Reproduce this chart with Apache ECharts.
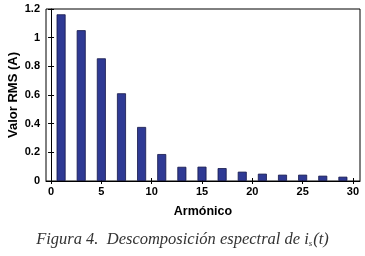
<!DOCTYPE html>
<html>
<head>
<meta charset="utf-8">
<script src="https://cdn.jsdelivr.net/npm/echarts@6/dist/echarts.min.js"></script>
<style>
  html, body { margin: 0; padding: 0; background: #fff; }
  #chart { width: 365px; height: 256px; }
</style>
</head>
<body>
<div id="chart"></div>
<script>
// harmonic order and its RMS value (A)
const harmonics = [1, 3, 5, 7, 9, 11, 13, 15, 17, 19, 21, 23, 25, 27, 29];
const rmsValues = [1.163, 1.052, 0.856, 0.612, 0.377, 0.188, 0.099, 0.1, 0.09, 0.065, 0.051, 0.044, 0.044, 0.037, 0.03];
const xTicks = [0, 5, 10, 15, 20, 25, 30];

const font = 'Liberation Sans, Arial, sans-serif';
const chartDom = document.getElementById('chart');
const myChart = echarts.init(chartDom);

const option = {
  animation: false,
  grid: {
    left: 46,
    right: 5,
    top: 9,
    bottom: 75,
    outerBoundsMode: 'none',
    show: true,
    borderColor: '#000',
    borderWidth: 1
  },
  xAxis: [
    {
      type: 'value',
      min: -0.5,
      max: 30.7,
      name: 'Armónico',
      nameLocation: 'middle',
      nameGap: 24,
      nameMoveOverlap: false,
      nameTextStyle: { color: '#000', fontFamily: font, fontSize: 12.5, fontWeight: 'bold' },
      axisLine: { lineStyle: { color: '#000' } },
      axisTick: { inside: true, length: 3, customValues: xTicks, lineStyle: { color: '#000' } },
      axisLabel: { customValues: xTicks, color: '#000', fontFamily: font, fontSize: 11, fontWeight: 'bold', margin: 5 },
      splitLine: { show: false }
    },
    {
      type: 'value',
      position: 'top',
      min: -0.5,
      max: 30.7,
      axisLine: { show: false },
      axisTick: { inside: true, length: 3, customValues: xTicks, lineStyle: { color: '#000' } },
      axisLabel: { show: false },
      splitLine: { show: false }
    }
  ],
  yAxis: [
    {
      type: 'value',
      min: 0,
      max: 1.2,
      interval: 0.2,
      name: 'Valor RMS (A)',
      nameLocation: 'middle',
      nameGap: 26,
      nameMoveOverlap: false,
      nameTextStyle: { color: '#000', fontFamily: font, fontSize: 13, fontWeight: 'bold' },
      axisLine: { show: true, lineStyle: { color: '#000' } },
      axisTick: { show: true, inside: true, length: 3, lineStyle: { color: '#000' } },
      axisLabel: { color: '#000', fontFamily: font, fontSize: 11, fontWeight: 'bold', margin: 6 },
      splitLine: { show: false }
    },
    {
      type: 'value',
      position: 'right',
      min: 0,
      max: 1.2,
      interval: 0.2,
      axisLine: { show: false },
      axisTick: { show: true, inside: true, length: 3, lineStyle: { color: '#000' } },
      axisLabel: { show: false },
      splitLine: { show: false }
    }
  ],
  graphic: [
    {
      type: 'text',
      left: 'center',
      top: 231,
      style: {
        text: '{t|Figura 4.  Descomposición espectral de i}{s|s}{t|(t)}',
        rich: {
          t: { fontFamily: 'Liberation Serif, serif', fontStyle: 'italic', fontSize: 16.5, fill: '#333' },
          s: { fontFamily: 'Liberation Serif, serif', fontStyle: 'italic', fontSize: 9, fill: '#333', verticalAlign: 'bottom', padding: [7, 1, 0, 0] }
        }
      }
    }
  ],
  series: [
    {
      type: 'bar',
      barWidth: 9,
      data: harmonics.map((h, i) => [h, rmsValues[i]]),
      itemStyle: { color: '#2f3a94', borderColor: '#15184a', borderWidth: 0.8 }
    }
  ]
};

option && myChart.setOption(option);
</script>
</body>
</html>
